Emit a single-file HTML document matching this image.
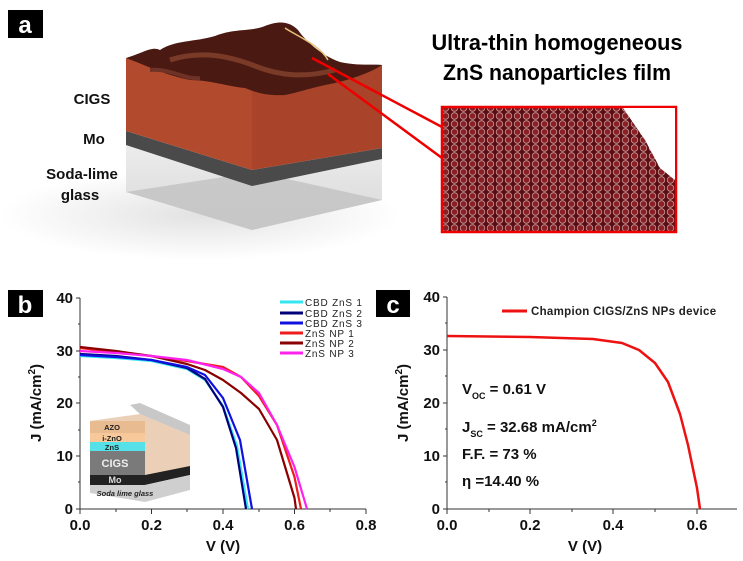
<!DOCTYPE html>
<html><head><meta charset="utf-8"><style>
body{margin:0;background:#fff;}
svg{display:block;font-family:"Liberation Sans",sans-serif;}
</style></head><body>
<svg width="743" height="561" viewBox="0 0 743 561" xmlns="http://www.w3.org/2000/svg">
<defs>
<linearGradient id="gl" x1="0" y1="0" x2="0" y2="1"><stop offset="0" stop-color="#ececec"/><stop offset="1" stop-color="#d8d8d8"/></linearGradient>
<radialGradient id="sh" cx="0.5" cy="0.5" r="0.5"><stop offset="0" stop-color="#e2e2e2"/><stop offset="1" stop-color="#fff"/></radialGradient>
<pattern id="np" width="9" height="8" patternUnits="userSpaceOnUse"><rect width="9" height="8" fill="#5a0d12"/><circle cx="4.5" cy="4" r="3.3" fill="#8a1f25" stroke="#c79a9c" stroke-width="0.8"/></pattern>
</defs>
<!-- panel a -->
<rect x="8" y="10" width="35" height="28" fill="#000"/>
<text x="25" y="33" font-size="24" font-weight="bold" fill="#fff" text-anchor="middle">a</text>
<ellipse cx="200" cy="215" rx="200" ry="45" fill="url(#sh)"/>
<!-- glass -->
<polygon points="126,145 252,186 382,159 382,200 252,230 126,192" fill="url(#gl)"/>
<polygon points="126,192 252,230 382,200 256,172" fill="#c2c2c2" opacity="0.8"/>
<!-- Mo -->
<polygon points="126,131 252,170 382,148 382,159 252,186 126,145" fill="#4a4a4a"/>
<!-- CIGS -->
<polygon points="126,58 252,80 252,170 126,131" fill="#b24a2e"/>
<polygon points="252,80 382,65 382,148 252,170" fill="#a94329"/>
<!-- film -->
<path d="M126,58 C145,52 152,46 160,50 C175,40 195,42 215,36 C235,28 250,32 265,26 C280,20 290,22 298,30 C305,40 320,55 340,62 C358,66 372,64 382,65 C372,72 350,80 330,84 C310,88 300,92 285,95 C265,96 255,92 245,88 C225,86 210,80 190,80 C165,75 145,65 126,58 Z" fill="#4a1a12"/>
<path d="M170,60 C200,50 230,56 255,66 C280,76 305,78 335,70" stroke="#7a3a28" stroke-width="5" fill="none"/>
<path d="M150,70 C170,68 185,80 200,78" stroke="#6e3226" stroke-width="4" fill="none"/>
<path d="M285,28 C295,35 320,45 328,60" stroke="#e8c27a" stroke-width="1.5" fill="none"/>
<!-- labels -->
<g font-size="15" font-weight="bold" font-family="'Liberation Sans Narrow','Liberation Sans',sans-serif" text-anchor="middle" fill="#111">
<text x="92" y="104">CIGS</text>
<text x="94" y="144">Mo</text>
<text x="82" y="179">Soda-lime</text>
<text x="80" y="200">glass</text>
</g>
<text x="557" y="50" font-size="22" font-weight="bold" font-family="'Liberation Sans Narrow','Liberation Sans',sans-serif" text-anchor="middle" textLength="251" lengthAdjust="spacingAndGlyphs">Ultra-thin homogeneous</text>
<text x="557" y="80" font-size="22" font-weight="bold" font-family="'Liberation Sans Narrow','Liberation Sans',sans-serif" text-anchor="middle" textLength="228" lengthAdjust="spacingAndGlyphs">ZnS nanoparticles film</text>
<line x1="312" y1="58" x2="442" y2="127" stroke="#e00" stroke-width="2.5"/>
<line x1="328" y1="74" x2="442" y2="158" stroke="#e00" stroke-width="2.5"/>
<rect x="442" y="107" width="234" height="125" fill="url(#np)" stroke="#e00" stroke-width="2.5"/>
<polygon points="623,108 675,108 675,180 660,168 645,140" fill="#fff"/>

<!-- panel b -->
<rect x="8" y="290" width="35" height="27" fill="#000"/>
<text x="25" y="313" font-size="24" font-weight="bold" fill="#fff" text-anchor="middle">b</text>
<g stroke="#333" stroke-width="1">
<line x1="80" y1="298" x2="80" y2="509"/><line x1="80" y1="509" x2="366" y2="509"/>
<path d="M76,298H80M76,351H80M76,403H80M76,456H80M76,509H80M78,324H80M78,377H80M78,430H80M78,482H80"/>
<path d="M80,509V514M151.5,509V514M223,509V514M294.5,509V514M366,509V514M116,509V512M187,509V512M259,509V512M330,509V512"/>
</g>
<g font-size="15" font-weight="bold" fill="#111">
<g text-anchor="end"><text x="73" y="303">40</text><text x="73" y="356">30</text><text x="73" y="408">20</text><text x="73" y="461">10</text><text x="73" y="514">0</text></g>
<g text-anchor="middle"><text x="80" y="530">0.0</text><text x="151.5" y="530">0.2</text><text x="223" y="530">0.4</text><text x="294.5" y="530">0.6</text><text x="366" y="530">0.8</text>
<text x="223" y="551">V (V)</text></g>
<text transform="translate(41,403) rotate(-90)" text-anchor="middle">J (mA/cm<tspan font-size="10" dy="-6">2</tspan><tspan dy="6">)</tspan></text>
</g>
<!-- inset -->
<g>
<polygon points="130,405 140,403 190,425 190,435 140,414" fill="#c8c8c8"/>
<polygon points="90,421 140,414 190,435 190,475 140,475 90,475" fill="#d9a070" opacity="0.5"/>
<rect x="90" y="421" width="55" height="12" fill="#e8bb90"/>
<rect x="90" y="433" width="55" height="9" fill="#f6c89a"/>
<rect x="90" y="442" width="55" height="9" fill="#56e0e8"/>
<rect x="90" y="451" width="55" height="24" fill="#7a7a7a"/>
<polygon points="90,475 145,475 190,466 190,475 145,485 90,485" fill="#222"/>
<polygon points="90,485 145,485 190,475 190,490 145,502 90,493" fill="#cfcfcf"/>
<g font-size="7.5" font-weight="bold" fill="#222" text-anchor="middle"><text x="112" y="430">AZO</text><text x="112" y="441">i-ZnO</text><text x="112" y="450">ZnS</text><text x="115" y="467" font-size="11" fill="#eee">CIGS</text><text x="115" y="483" fill="#ddd" font-size="9">Mo</text><text x="125" y="496" font-style="italic">Soda lime glass</text></g>
</g>
<!-- curves b -->
<g fill="none" stroke-width="2.2" stroke-linejoin="round">
<polyline stroke="#33e6f0" points="80,356 116,358 151.5,361 187,369 205,380 223,406 237,446 248,509"/>
<polyline stroke="#00007a" points="80,354 116,356 151.5,360 187,368 205,379 223,407 236,448 246,509"/>
<polyline stroke="#1010e0" points="80,355 116,357 151.5,360 187,367 205,375 223,398 240,440 252,509"/>
<polyline stroke="#ee1c1c" points="80,348 116,352 151.5,356 187,361 223,367 241,377 259,396 277,425 294.5,477 301,509"/>
<polyline stroke="#8a0000" points="80,347 116,351 151.5,356 187,364 205,370 223,380 241,393 259,409 277,440 294.5,498 296,509"/>
<polyline stroke="#ff22ee" points="80,351 116,353 151.5,356 187,360 223,369 241,377 259,393 277,425 294.5,467 307,509"/>
</g>
<g font-size="10" fill="#222" letter-spacing="0.8">
<line x1="280" y1="302" x2="303" y2="302" stroke="#33e6f0" stroke-width="3"/><text x="305" y="306">CBD ZnS 1</text>
<line x1="280" y1="313" x2="303" y2="313" stroke="#00007a" stroke-width="3"/><text x="305" y="317">CBD ZnS 2</text>
<line x1="280" y1="323" x2="303" y2="323" stroke="#1010e0" stroke-width="3"/><text x="305" y="327">CBD ZnS 3</text>
<line x1="280" y1="333" x2="303" y2="333" stroke="#ee1c1c" stroke-width="3"/><text x="305" y="337">ZnS NP 1</text>
<line x1="280" y1="343" x2="303" y2="343" stroke="#8a0000" stroke-width="3"/><text x="305" y="347">ZnS NP 2</text>
<line x1="280" y1="353" x2="303" y2="353" stroke="#ff22ee" stroke-width="3"/><text x="305" y="357">ZnS NP 3</text>
</g>

<!-- panel c -->
<rect x="376" y="290" width="34" height="27" fill="#000"/>
<text x="393" y="313" font-size="24" font-weight="bold" fill="#fff" text-anchor="middle">c</text>
<g stroke="#333" stroke-width="1">
<line x1="447" y1="297" x2="447" y2="509"/><line x1="447" y1="509" x2="737" y2="509"/>
<path d="M443,297H447M443,350H447M443,403H447M443,456H447M443,509H447M445,323H447M445,376H447M445,429H447M445,482H447"/>
<path d="M447,509V514M530,509V514M613,509V514M697,509V514M489,509V512M572,509V512M655,509V512"/>
</g>
<g font-size="15" font-weight="bold" fill="#111">
<g text-anchor="end"><text x="440" y="302">40</text><text x="440" y="355">30</text><text x="440" y="408">20</text><text x="440" y="461">10</text><text x="440" y="514">0</text></g>
<g text-anchor="middle"><text x="447" y="530">0.0</text><text x="530" y="530">0.2</text><text x="613" y="530">0.4</text><text x="697" y="530">0.6</text>
<text x="585" y="551">V (V)</text></g>
<text transform="translate(408,403) rotate(-90)" text-anchor="middle">J (mA/cm<tspan font-size="10" dy="-6">2</tspan><tspan dy="6">)</tspan></text>
</g>
<polyline fill="none" stroke="#ee1111" stroke-width="2.5" stroke-linejoin="round" points="447,336 530,337 593,339 622,343 639,350 655,363 668,382 680,414 688,445 697,488 700,509"/>
<line x1="502" y1="311" x2="527" y2="311" stroke="#ee1111" stroke-width="3"/>
<text x="531" y="315" font-size="11.5" font-weight="bold" fill="#222" letter-spacing="0.3">Champion CIGS/ZnS NPs device</text>
<g font-size="15" font-weight="bold" fill="#111">
<text x="462" y="394">V<tspan font-size="9" dy="5">OC</tspan><tspan dy="-5"> = 0.61 V</tspan></text>
<text x="462" y="432">J<tspan font-size="9" dy="5">SC</tspan><tspan dy="-5"> = 32.68 mA/cm</tspan><tspan font-size="9" dy="-6">2</tspan></text>
<text x="462" y="459">F.F. = 73 %</text>
<text x="462" y="486">η   =14.40 %</text>
</g>
</svg>
</body></html>
